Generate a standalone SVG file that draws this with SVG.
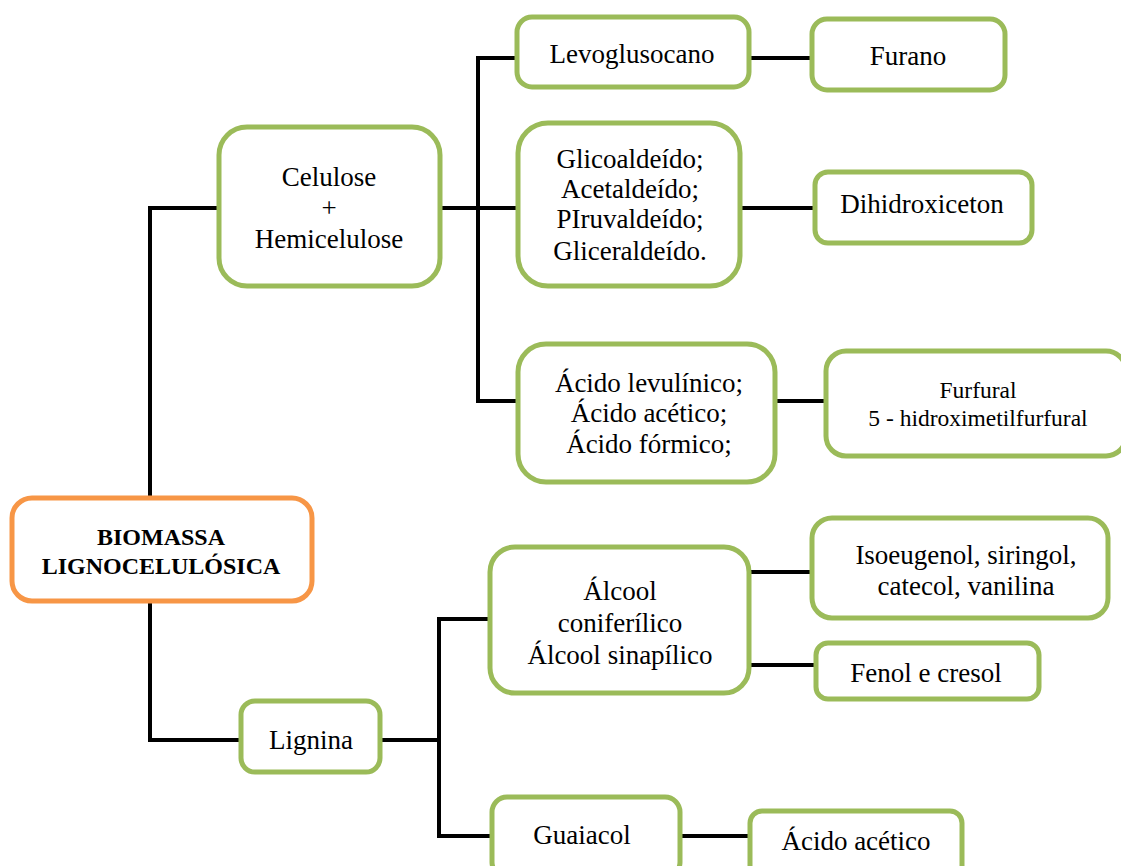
<svg xmlns="http://www.w3.org/2000/svg" width="1121" height="866" viewBox="0 0 1121 866">
<style>
.box{fill:#fff;stroke:#9BBB59;stroke-width:5}
.root{fill:#fff;stroke:#F79646;stroke-width:5}
.t{font-family:"Liberation Serif",serif;font-size:27px;fill:#000;text-anchor:middle}
.s{font-size:23.5px}
.b{font-weight:bold;font-size:24px}
.c{fill:none;stroke:#000;stroke-width:4}
</style>
<rect width="1121" height="866" fill="#fff"/>
<g id="connectors" class="c">
<path d="M217 208 H150 V497"/>
<path d="M150 602 V740 H240"/>
<path d="M441 208 H517"/>
<path d="M516 58 H478 V401 H517"/>
<path d="M750 58 H811"/>
<path d="M741 208 H813"/>
<path d="M776 401 H824"/>
<path d="M381 740 H439"/>
<path d="M489 619 H439 V836 H491"/>
<path d="M750 572 H811"/>
<path d="M750 665 H815"/>
<path d="M681 836 H749"/>
</g>
<g id="biomassa"><rect class="root" x="12" y="498" width="300" height="103" rx="20"/>
<text class="t b" x="161" y="545">BIOMASSA</text><text class="t b" x="161" y="574">LIGNOCELULÓSICA</text></g>
<g id="celulose"><rect class="box" x="219" y="127" width="221" height="159" rx="28"/>
<text class="t" x="329" y="186">Celulose</text><text class="t" x="329" y="217">+</text><text class="t" x="329" y="248">Hemicelulose</text></g>
<g id="levoglusocano"><rect class="box" x="517" y="17" width="232" height="70" rx="15"/>
<text class="t" x="632" y="63">Levoglusocano</text></g>
<g id="furano"><rect class="box" x="812" y="19" width="193" height="71" rx="15"/>
<text class="t" x="908" y="65">Furano</text></g>
<g id="aldeidos"><rect class="box" x="518" y="123" width="222" height="163" rx="30"/>
<text class="t" x="630" y="168">Glicoaldeído;</text><text class="t" x="630" y="198">Acetaldeído;</text><text class="t" x="630" y="228">PIruvaldeído;</text><text class="t" x="630" y="260">Gliceraldeído.</text></g>
<g id="dihidroxiceton"><rect class="box" x="815" y="172" width="217" height="71" rx="13"/>
<text class="t" x="922" y="213">Dihidroxiceton</text></g>
<g id="acidos"><rect class="box" x="518" y="344" width="257" height="138" rx="28"/>
<text class="t" x="649" y="392">Ácido levulínico;</text><text class="t" x="649" y="422">Ácido acético;</text><text class="t" x="649" y="453">Ácido fórmico;</text></g>
<g id="furfural"><rect class="box" x="826" y="351" width="300" height="105" rx="20"/>
<text class="t s" x="978" y="398">Furfural</text><text class="t s" x="978" y="426">5 - hidroximetilfurfural</text></g>
<g id="lignina"><rect class="box" x="241" y="701" width="139" height="71" rx="14"/>
<text class="t" x="311" y="749">Lignina</text></g>
<g id="alcool"><rect class="box" x="490" y="547" width="259" height="146" rx="25"/>
<text class="t" x="620" y="600">Álcool</text><text class="t" x="620" y="632">coniferílico</text><text class="t" x="620" y="664">Álcool sinapílico</text></g>
<g id="isoeugenol"><rect class="box" x="812" y="518" width="296" height="100" rx="20"/>
<text class="t" x="966" y="564">Isoeugenol, siringol,</text><text class="t" x="966" y="595">catecol, vanilina</text></g>
<g id="fenol"><rect class="box" x="816" y="643" width="223" height="56" rx="12"/>
<text class="t" x="926" y="682">Fenol e cresol</text></g>
<g id="guaiacol"><rect class="box" x="492" y="797" width="188" height="80" rx="15"/>
<text class="t" x="582" y="844">Guaiacol</text></g>
<g id="acidoacetico"><rect class="box" x="750" y="811" width="212" height="70" rx="12"/>
<text class="t" x="856" y="850">Ácido acético</text></g>
</svg>
